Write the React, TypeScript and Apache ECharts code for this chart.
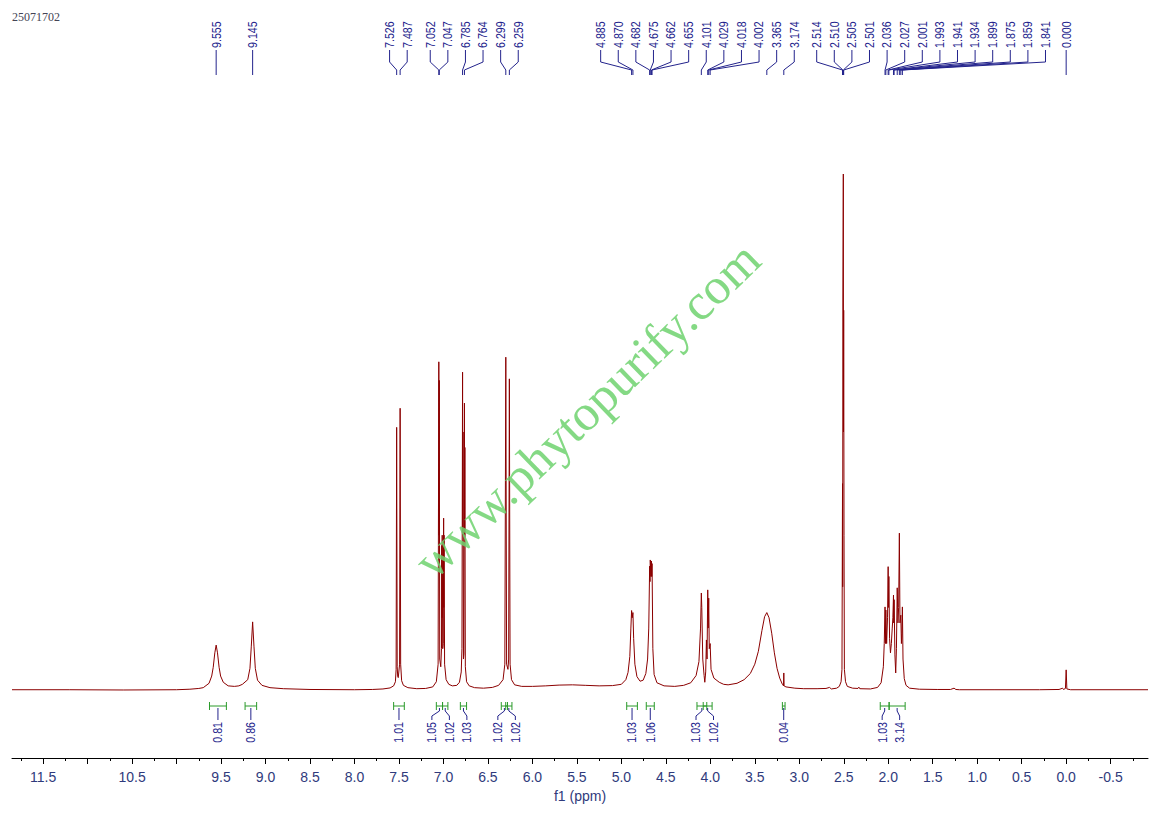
import React, { useEffect, useRef } from 'react';
import * as echarts from 'echarts';

// ppm range of the plotted window (inverted axis, high ppm on the left)
const X_MIN = -0.92;
const X_MAX = 11.85;
const Y_MIN = -13.18;
const Y_MAX = 100;

// spectrum trace: [ppm, intensity], intensity relative to the 2.505 solvent line
const spectrumPoints: [number, number][] = [
  [11.85, 0.05], [11.2, 0.05], [10.6, 0.0], [10.0, 0.05], [9.85, 0.15], [9.75, 0.3], [9.7, 0.45],
  [9.635, 1.3], [9.605, 2.7], [9.588, 4.4], [9.57, 7.2], [9.555, 8.7], [9.54, 7.2], [9.522, 4.4],
  [9.505, 2.7], [9.475, 1.5], [9.42, 0.8], [9.35, 0.7], [9.3, 0.8], [9.26, 1.1], [9.2, 2.0],
  [9.175, 4.2], [9.16, 8.5], [9.145, 13.2], [9.13, 8.5], [9.115, 4.2], [9.09, 1.9], [9.04, 0.9],
  [8.95, 0.45], [8.8, 0.25], [8.5, 0.1], [8.0, 0.05], [7.8, 0.1], [7.68, 0.2], [7.6, 0.4],
  [7.56, 0.8], [7.54, 1.6], [7.532, 4], [7.526, 50.9], [7.52, 4.5], [7.514, 2.6], [7.508, 2.4],
  [7.493, 5], [7.487, 54.6], [7.481, 5], [7.47, 1.8], [7.45, 0.9], [7.4, 0.45], [7.3, 0.25],
  [7.2, 0.3], [7.12, 0.6], [7.08, 1.6], [7.06, 5], [7.052, 63.6], [7.049, 30], [7.047, 60],
  [7.042, 6], [7.03, 4.5], [7.022, 8], [7.019, 28], [7.016, 14], [7.014, 30], [7.008, 8],
  [7.002, 9], [6.998, 33.3], [6.996, 16], [6.993, 30], [6.987, 5], [6.97, 2], [6.94, 1.1],
  [6.9, 0.8], [6.85, 0.9], [6.82, 1.5], [6.8, 3.5], [6.792, 8], [6.785, 61.6], [6.782, 30],
  [6.78, 50], [6.775, 6], [6.77, 7], [6.764, 55.6], [6.762, 30], [6.759, 47], [6.754, 4.5],
  [6.74, 1.6], [6.71, 0.8], [6.65, 0.45], [6.55, 0.35], [6.45, 0.5], [6.38, 0.9], [6.33, 2],
  [6.31, 5], [6.299, 64.5], [6.29, 5], [6.275, 4], [6.267, 6], [6.259, 60.3], [6.251, 5],
  [6.235, 2], [6.2, 1.0], [6.12, 0.7], [6.0, 0.7], [5.85, 0.8], [5.7, 0.95], [5.55, 1.0],
  [5.4, 0.9], [5.25, 0.8], [5.1, 0.85], [5.0, 1.1], [4.95, 2.0], [4.925, 3.4], [4.905, 6.5],
  [4.893, 12], [4.885, 15.4], [4.878, 14], [4.87, 15.0], [4.862, 10], [4.848, 5], [4.825, 2.6],
  [4.79, 1.7], [4.755, 1.9], [4.725, 3.2], [4.705, 6], [4.692, 12], [4.682, 24], [4.678, 21],
  [4.675, 25.2], [4.668, 22], [4.662, 25], [4.659, 22], [4.655, 24.5], [4.646, 8], [4.632, 3],
  [4.6, 1.4], [4.52, 0.8], [4.4, 0.7], [4.3, 0.9], [4.22, 1.4], [4.16, 2.8], [4.128, 5.5],
  [4.11, 12], [4.101, 18.8], [4.096, 16], [4.085, 6], [4.07, 2.8], [4.062, 1.5], [4.052, 3.5],
  [4.044, 9.7], [4.037, 6], [4.029, 19.4], [4.024, 12], [4.018, 17.8], [4.012, 8], [4.006, 8.5],
  [4.002, 9], [3.992, 4], [3.96, 2.3], [3.9, 1.5], [3.85, 1.1], [3.8, 1.0], [3.7, 1.3],
  [3.62, 2.0], [3.55, 3.2], [3.5, 5.0], [3.46, 7.5], [3.42, 11.5], [3.39, 14.2], [3.365, 15.0],
  [3.34, 14.0], [3.31, 11], [3.28, 7.2], [3.25, 4.2], [3.22, 2.3], [3.19, 1.1], [3.177, 0.8],
  [3.174, 3.3], [3.171, 0.8], [3.15, 0.6], [3.05, 0.35], [2.95, 0.25], [2.8, 0.25], [2.7, 0.3],
  [2.66, 0.5], [2.64, 0.2], [2.58, 0.35], [2.55, 0.7], [2.53, 1.6], [2.52, 4], [2.514, 40],
  [2.512, 20], [2.51, 75], [2.505, 100], [2.503, 50], [2.501, 73.6], [2.497, 30], [2.493, 4],
  [2.48, 1.6], [2.46, 0.7], [2.4, 0.35], [2.34, 0.3], [2.33, 0.55], [2.32, 0.25], [2.2, 0.2],
  [2.12, 0.5], [2.08, 1.4], [2.055, 4.5], [2.045, 9], [2.036, 16.1], [2.031, 9], [2.027, 15.5],
  [2.018, 9], [2.008, 14], [2.001, 23.9], [1.997, 16], [1.993, 22], [1.985, 10], [1.975, 7.2],
  [1.965, 9], [1.955, 12], [1.948, 14], [1.941, 18.4], [1.938, 13], [1.934, 17.5], [1.925, 6.8],
  [1.916, 3.3], [1.908, 8], [1.899, 19.8], [1.891, 13], [1.883, 16], [1.875, 30.4], [1.868, 13],
  [1.859, 14.5], [1.852, 9], [1.847, 11], [1.841, 16.1], [1.834, 6], [1.82, 2.2], [1.8, 0.9],
  [1.76, 0.35], [1.65, 0.15], [1.45, 0.1], [1.3, 0.1], [1.26, 0.35], [1.24, 0.1], [1.2, 0.05],
  [0.8, 0.05], [0.3, 0.05], [0.08, 0.1], [0.04, 0.35], [0.03, 0.1], [0.008, 0.3], [0.0, 3.9],
  [-0.008, 0.2], [-0.05, 0.05], [-0.92, 0.05],
];

// peak picking labels, grouped the way the labels fan out
const peakLabelGroups: string[][] = [
  ['9.555'],
  ['9.145'],
  ['7.526', '7.487'],
  ['7.052', '7.047'],
  ['6.785', '6.764'],
  ['6.299', '6.259'],
  ['4.885', '4.870', '4.682', '4.675', '4.662', '4.655'],
  ['4.101', '4.029', '4.018', '4.002'],
  ['3.365'],
  ['3.174'],
  ['2.514', '2.510', '2.505', '2.501'],
  ['2.036', '2.027', '2.001', '1.993', '1.941', '1.934', '1.899', '1.875', '1.859', '1.841'],
  ['0.000'],
];

// integration regions (ppm) and values
const integralFrom = [9.63, 9.23, 7.56, 7.08, 7.01, 6.81, 6.35, 6.3, 4.94, 4.72, 4.15, 4.08, 3.19, 2.09, 1.99];
const integralTo = [9.44, 9.1, 7.44, 7.01, 6.95, 6.74, 6.28, 6.23, 4.82, 4.63, 4.04, 3.98, 3.16, 1.99, 1.81];
const integralValues = ['0.81', '0.86', '1.01', '1.05', '1.02', '1.03', '1.02', '1.02', '1.03', '1.06', '1.03', '1.02', '0.04', '1.03', '3.14'];

// axis ticks
const tickLabels = [11.5, 10.5, 9.5, 9.0, 8.5, 8.0, 7.5, 7.0, 6.5, 6.0, 5.5, 5.0, 4.5, 4.0, 3.5, 3.0, 2.5, 2.0, 1.5, 1.0, 0.5, 0.0, -0.5];
const majorTicks = [11.5, 11.0, 10.5, 10.0, 9.5, 9.0, 8.5, 8.0, 7.5, 7.0, 6.5, 6.0, 5.5, 5.0, 4.5, 4.0, 3.5, 3.0, 2.5, 2.0, 1.5, 1.0, 0.5, 0.0, -0.5];
const minorTicks = [11.75, 11.25, 10.75, 10.25, 9.75, 9.25, 8.75, 8.25, 7.75, 7.25, 6.75, 6.25, 5.75, 5.25, 4.75, 4.25, 3.75, 3.25, 2.75, 2.25, 1.75, 1.25, 0.75, 0.25, -0.25, -0.75];

const NAVY = '#23238c';
const GREEN = '#2a9a2a';
const LABEL_FONT = 'Liberation Sans, Arial, sans-serif';

// each group centred on its peaks, pushed right if it runs into the previous one
function layoutGroups(groups: number[][], gap: number): number[][] {
  let prevEnd = -Infinity;
  return groups.map((targets) => {
    const n = targets.length;
    const mean = targets.reduce((a, b) => a + b, 0) / n;
    let start = mean - ((n - 1) * gap) / 2;
    if (start < prevEnd + gap) start = prevEnd + gap;
    prevEnd = start + (n - 1) * gap;
    return targets.map((_, i) => start + i * gap);
  });
}

// merge overlapping labels into clusters centred on their targets
function layoutClusters(targets: number[], gap: number): number[] {
  let clusters = targets.map((t, i) => ({ idx: [i], start: t }));
  let merged = true;
  while (merged) {
    merged = false;
    for (let i = 1; i < clusters.length; i++) {
      const a = clusters[i - 1];
      const b = clusters[i];
      if (b.start < a.start + a.idx.length * gap - 0.01) {
        const idx = a.idx.concat(b.idx);
        const mean = idx.reduce((s, k) => s + targets[k], 0) / idx.length;
        clusters.splice(i - 1, 2, { idx, start: mean - ((idx.length - 1) * gap) / 2 });
        merged = true;
        break;
      }
    }
  }
  const out: number[] = new Array(targets.length);
  clusters.forEach((c) => c.idx.forEach((k, j) => (out[k] = c.start + j * gap)));
  return out;
}

export default function App() {
  const ref = useRef<HTMLDivElement>(null);

  useEffect(() => {
    if (!ref.current) return;
    const chart = echarts.init(ref.current, null, { renderer: 'svg' });

    chart.setOption({
      animation: false,
      grid: { left: 12, right: 8, top: 174, bottom: 57 },
      xAxis: [
        {
          type: 'value',
          inverse: true,
          min: X_MIN,
          max: X_MAX,
          position: 'bottom',
          name: 'f1 (ppm)',
          nameLocation: 'middle',
          nameGap: 30,
          nameTextStyle: { fontSize: 14, color: '#2f3a7c', fontFamily: LABEL_FONT },
          axisLine: { onZero: false, lineStyle: { color: '#000', width: 1 } },
          axisTick: { customValues: majorTicks, length: 6, lineStyle: { color: '#000' } },
          axisLabel: {
            customValues: tickLabels,
            formatter: (v: number) => v.toFixed(1),
            fontSize: 14,
            color: '#2f3a7c',
            fontFamily: LABEL_FONT,
            margin: 12,
          },
          splitLine: { show: false },
        },
        {
          type: 'value',
          inverse: true,
          min: X_MIN,
          max: X_MAX,
          position: 'bottom',
          axisLine: { show: false, onZero: false },
          axisTick: { customValues: minorTicks, length: 3, lineStyle: { color: '#000' } },
          axisLabel: { show: false },
          splitLine: { show: false },
        },
      ],
      yAxis: { type: 'value', min: Y_MIN, max: Y_MAX, show: false },
      series: [
        {
          type: 'line',
          data: spectrumPoints,
          xAxisIndex: 0,
          symbol: 'none',
          clip: false,
          lineStyle: { color: '#8b0000', width: 1 },
        },
      ],
    });

    const px = (ppm: number) => chart.convertToPixel({ xAxisIndex: 0 }, ppm) as number;
    const elements: any[] = [];

    // experiment title
    elements.push({
      type: 'text',
      x: 12,
      y: 17,
      style: { text: '25071702', fontSize: 12, fontFamily: 'Liberation Serif, serif', fill: '#444455', verticalAlign: 'middle' },
    });

    // peak labels with fan connectors
    const peakX = peakLabelGroups.map((g) => g.map((s) => px(parseFloat(s))));
    const labelX = layoutGroups(peakX, 17.6);
    peakLabelGroups.forEach((g, gi) => {
      g.forEach((s, i) => {
        const lx = labelX[gi][i];
        const p = peakX[gi][i];
        elements.push({
          type: 'text',
          x: lx,
          y: 48,
          rotation: Math.PI / 2,
          scaleX: 0.82,
          style: { text: s, fontSize: 13, fontFamily: LABEL_FONT, fill: NAVY, align: 'left', verticalAlign: 'middle' },
        });
        elements.push({
          type: 'polyline',
          shape: { points: [[lx, 50], [lx, 62], [p, 70], [p, 75]] },
          style: { stroke: NAVY, fill: 'none', lineWidth: 1 },
        });
      });
    });

    // integrals
    const bx0 = integralFrom.map((v) => px(v));
    const bx1 = integralTo.map((v) => px(v));
    const centers = bx0.map((x, i) => (x + bx1[i]) / 2);
    const textX = layoutClusters(centers, 17.5);
    integralValues.forEach((val, i) => {
      const a = bx0[i];
      const b = bx1[i];
      elements.push({
        type: 'polyline',
        shape: { points: [[a, 702], [a, 710]] },
        style: { stroke: GREEN, fill: 'none', lineWidth: 1 },
      });
      elements.push({
        type: 'polyline',
        shape: { points: [[b, 702], [b, 710]] },
        style: { stroke: GREEN, fill: 'none', lineWidth: 1 },
      });
      elements.push({
        type: 'line',
        shape: { x1: a, y1: 706, x2: b, y2: 706 },
        style: { stroke: GREEN, lineWidth: 1 },
      });
      elements.push({
        type: 'polyline',
        shape: { points: [[centers[i], 708], [centers[i], 711], [textX[i], 716], [textX[i], 720]] },
        style: { stroke: NAVY, fill: 'none', lineWidth: 1 },
      });
      elements.push({
        type: 'text',
        x: textX[i],
        y: 722,
        rotation: Math.PI / 2,
        scaleX: 0.82,
        style: { text: val, fontSize: 13, fontFamily: LABEL_FONT, fill: NAVY, align: 'right', verticalAlign: 'middle' },
      });
    });

    // watermark
    elements.push({
      type: 'text',
      x: 587,
      y: 410,
      rotation: (44 * Math.PI) / 180,
      z: 100,
      style: {
        text: 'www.phytopurify.com',
        fontSize: 51,
        fontFamily: 'Liberation Serif, serif',
        fill: 'rgba(110, 210, 110, 0.85)',
        align: 'center',
        verticalAlign: 'middle',
      },
    });

    chart.setOption({ graphic: elements });

    return () => {
      chart.dispose();
    };
  }, []);

  return <div ref={ref} style={{ position: 'absolute', left: 0, top: 0, width: 1156, height: 815, background: '#fff' }} />;
}
